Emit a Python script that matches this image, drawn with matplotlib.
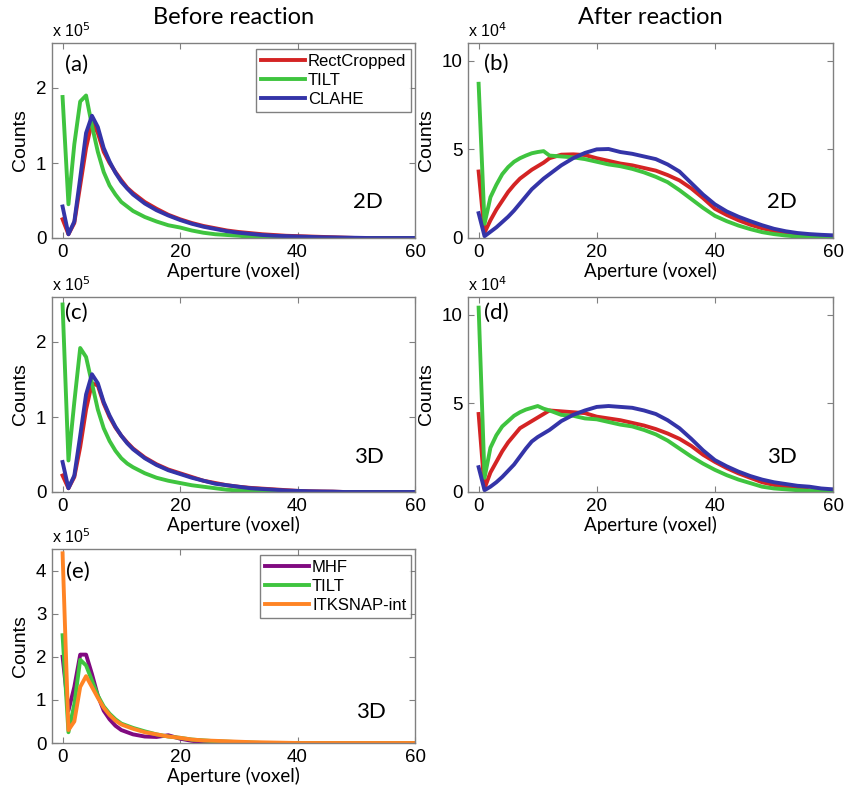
import matplotlib
matplotlib.use("Agg")
import matplotlib.pyplot as plt
import numpy as np

# ---------------- data ----------------
x_fine = list(range(0, 13)) + list(range(14, 61, 2))  # aperture (voxel)

# Panel (a) before reaction, 2D   (units of 1e5 counts)
a_rect = [0.25, 0.05, 0.2, 0.7, 1.2, 1.55, 1.4, 1.15, 1.0, 0.88, 0.77, 0.67, 0.6,
          0.48, 0.39, 0.31, 0.25, 0.2, 0.16, 0.13, 0.1, 0.08, 0.065, 0.05, 0.04, 0.03,
          0.025, 0.02, 0.015, 0.01, 0.005, 0, 0, 0, 0, 0, 0]
a_tilt = [1.88, 0.45, 1.25, 1.82, 1.9, 1.5, 1.15, 0.88, 0.7, 0.58, 0.48, 0.42, 0.36,
          0.28, 0.22, 0.17, 0.14, 0.1, 0.07, 0.05, 0.04, 0.03, 0.015, 0.01, 0, 0,
          0, 0, 0, 0, 0, 0, 0, 0, 0, 0, 0]
a_clahe = [0.42, 0.05, 0.22, 0.8, 1.4, 1.63, 1.48, 1.2, 1.02, 0.87, 0.75, 0.66, 0.58,
           0.46, 0.37, 0.3, 0.24, 0.19, 0.15, 0.12, 0.09, 0.07, 0.055, 0.04, 0.03, 0.025,
           0.02, 0.015, 0.01, 0.008, 0.005, 0.003, 0, 0, 0, 0, 0]

# Panel (b) after reaction, 2D   (units of 1e4 counts)
b_rect = [3.75, 0.3, 1.0, 1.6, 2.1, 2.6, 3.0, 3.35, 3.6, 3.85, 4.05, 4.25, 4.5,
          4.7, 4.72, 4.68, 4.5, 4.35, 4.2, 4.1, 3.95, 3.8, 3.55, 3.25, 2.8, 2.25,
          1.65, 1.3, 1.0, 0.75, 0.55, 0.4, 0.28, 0.18, 0.12, 0.07, 0.04]
b_tilt = [8.7, 0.8, 2.3, 3.0, 3.6, 4.0, 4.3, 4.5, 4.65, 4.78, 4.85, 4.9, 4.65,
          4.6, 4.55, 4.45, 4.3, 4.15, 4.05, 3.9, 3.7, 3.45, 3.15, 2.7, 2.2, 1.7,
          1.25, 0.95, 0.7, 0.5, 0.33, 0.22, 0.14, 0.08, 0.05, 0.02, 0.01]
b_clahe = [1.4, 0.1, 0.35, 0.6, 0.9, 1.2, 1.55, 1.95, 2.35, 2.75, 3.05, 3.35, 3.6,
           4.1, 4.5, 4.8, 5.0, 5.02, 4.85, 4.75, 4.6, 4.45, 4.15, 3.75, 3.1, 2.45,
           1.9, 1.5, 1.2, 0.95, 0.72, 0.52, 0.38, 0.28, 0.22, 0.18, 0.15]

# Panel (c) before reaction, 3D   (units of 1e5 counts)
c_rect = [0.22, 0.05, 0.2, 0.6, 1.1, 1.45, 1.42, 1.18, 1.0, 0.86, 0.75, 0.66, 0.58,
          0.46, 0.37, 0.3, 0.25, 0.2, 0.15, 0.12, 0.09, 0.07, 0.055, 0.045, 0.035, 0.025,
          0.015, 0.01, 0.007, 0.005, 0, 0, 0, 0, 0, 0, 0]
c_tilt = [2.5, 0.42, 1.2, 1.92, 1.8, 1.45, 1.1, 0.85, 0.68, 0.55, 0.45, 0.38, 0.33,
          0.25, 0.19, 0.15, 0.12, 0.09, 0.07, 0.05, 0.03, 0.02, 0.01, 0.005, 0, 0,
          0, 0, 0, 0, 0, 0, 0, 0, 0, 0, 0]
c_clahe = [0.4, 0.05, 0.22, 0.75, 1.3, 1.57, 1.45, 1.2, 1.02, 0.87, 0.75, 0.65, 0.57,
           0.45, 0.36, 0.29, 0.24, 0.19, 0.15, 0.11, 0.09, 0.07, 0.05, 0.04, 0.03, 0.02,
           0.015, 0.01, 0.007, 0.005, 0, 0, 0, 0, 0, 0, 0]

# Panel (d) after reaction, 3D   (units of 1e4 counts)
d_rect = [4.4, 0.2, 1.1, 1.7, 2.3, 2.8, 3.2, 3.6, 3.8, 4.0, 4.2, 4.4, 4.6,
          4.55, 4.5, 4.45, 4.25, 4.15, 4.05, 3.9, 3.75, 3.55, 3.3, 3.0, 2.6, 2.1,
          1.7, 1.35, 1.05, 0.8, 0.55, 0.4, 0.3, 0.2, 0.1, 0.05, 0.02]
d_tilt = [10.4, 0.8, 2.5, 3.2, 3.7, 4.0, 4.3, 4.5, 4.65, 4.75, 4.85, 4.7, 4.6,
          4.35, 4.3, 4.15, 4.1, 3.95, 3.8, 3.7, 3.5, 3.25, 2.9, 2.45, 2.0, 1.6,
          1.25, 0.95, 0.7, 0.5, 0.3, 0.2, 0.15, 0.1, 0.07, 0.03, 0.0]
d_clahe = [1.4, 0.1, 0.3, 0.55, 0.85, 1.2, 1.55, 2.0, 2.45, 2.85, 3.1, 3.3, 3.5,
           4.0, 4.35, 4.6, 4.8, 4.85, 4.8, 4.75, 4.6, 4.4, 4.05, 3.6, 3.0, 2.35,
           1.8, 1.45, 1.15, 0.9, 0.7, 0.55, 0.45, 0.35, 0.3, 0.2, 0.15]

# Panel (e) 3D comparison   (units of 1e5 counts)
e_mhf = [2.0, 0.75, 1.3, 2.05, 2.05, 1.6, 1.1, 0.75, 0.55, 0.4, 0.3, 0.25, 0.2,
         0.15, 0.14, 0.18, 0.1, 0.05, 0.02, 0.01, 0.005, 0, 0, 0, 0, 0,
         0, 0, 0, 0, 0, 0, 0, 0, 0, 0, 0]
e_tilt = [2.5, 0.25, 0.9, 1.93, 1.8, 1.45, 1.1, 0.85, 0.68, 0.55, 0.45, 0.4, 0.35,
          0.27, 0.2, 0.15, 0.12, 0.08, 0.06, 0.04, 0.03, 0.02, 0.01, 0, 0, 0,
          0, 0, 0, 0, 0, 0, 0, 0, 0, 0, 0]
e_itk = [4.4, 0.3, 0.5, 1.3, 1.55, 1.3, 1.05, 0.82, 0.65, 0.52, 0.43, 0.38, 0.33,
         0.25, 0.2, 0.15, 0.12, 0.08, 0.06, 0.05, 0.04, 0.03, 0.02, 0.015, 0.01, 0.005,
         0, 0, 0, 0, 0, 0, 0, 0, 0, 0, 0]

labels_top = ["RectCropped", "TILT", "CLAHE"]
labels_e = ["MHF", "TILT", "ITKSNAP-int"]

# ---------------- style ----------------
RED = "#d42424"
GREEN = "#3fc43f"
BLUE = "#3434a8"
PURPLE = "#800a80"
ORANGE = "#ff8424"
LW = 2.8
TICKFONT = ["Liberation Sans", "DejaVu Sans"]
TEXTFONT = ["Lato", "DejaVu Sans"]
FRAME = "#808080"

fig = plt.figure(figsize=(8.54, 7.9), dpi=100)
W, H = 854.0, 790.0


def make_ax(left, right, top, bottom):
    return fig.add_axes([left / W, 1 - bottom / H, (right - left) / W, (bottom - top) / H])


def style(ax, ymax, yticks, exp, label, dim, dimpos, labpos):
    ax.set_xlim(-1.8, 60)
    ax.set_ylim(0, ymax)
    ax.set_xticks([0, 20, 40, 60])
    ax.set_yticks(yticks)
    ax.set_yticklabels([str(t) for t in yticks])
    ax.tick_params(direction="in", top=True, right=True, length=4, width=0.8,
                   color=FRAME, labelsize=13.5, pad=4)
    for lab in ax.get_xticklabels() + ax.get_yticklabels():
        lab.set_family(TICKFONT)
    for sp in ax.spines.values():
        sp.set_color(FRAME)
        sp.set_linewidth(1.0)
    ax.set_xlabel("Aperture (voxel)", family=TEXTFONT, fontsize=13.5, labelpad=1)
    ax.set_ylabel("Counts", family=TICKFONT, fontsize=14, labelpad=5)
    ax.text(0.0, 1.015, "x 10$^{%d}$" % exp, transform=ax.transAxes, ha="left",
            va="bottom", family=TICKFONT, fontsize=11.5)
    ax.text(labpos[0], labpos[1], label, transform=ax.transAxes, ha="center",
            va="center", family=TEXTFONT, fontsize=16)
    ax.text(dimpos[0], dimpos[1], dim, transform=ax.transAxes, ha="center",
            va="center", family=TEXTFONT, fontsize=16)


def legend(ax, labels):
    leg = ax.legend(labels, loc="upper right", bbox_to_anchor=(0.99, 0.97),
                    frameon=True, fancybox=False, borderpad=0.3, labelspacing=0.25,
                    handlelength=2.6, handletextpad=0.2, borderaxespad=0.0,
                    prop={"family": TICKFONT, "size": 12})
    leg.get_frame().set_edgecolor("#606060")
    leg.get_frame().set_linewidth(1.0)


# (a)
ax = make_ax(52, 415, 43, 238)
ax.plot(x_fine, a_rect, color=RED, lw=LW)
ax.plot(x_fine, a_tilt, color=GREEN, lw=LW)
ax.plot(x_fine, a_clahe, color=BLUE, lw=LW)
style(ax, 2.6, [0, 1, 2], 5, "(a)", "2D", (0.87, 0.185), (0.068, 0.89))
legend(ax, labels_top)
ax.set_title("Before reaction", family=TEXTFONT, fontsize=17, pad=14)

# (b)
ax = make_ax(468, 833, 43, 238)
ax.plot(x_fine, b_rect, color=RED, lw=LW)
ax.plot(x_fine, b_tilt, color=GREEN, lw=LW)
ax.plot(x_fine, b_clahe, color=BLUE, lw=LW)
style(ax, 11, [0, 5, 10], 4, "(b)", "2D", (0.86, 0.185), (0.078, 0.895))
ax.set_title("After reaction", family=TEXTFONT, fontsize=17, pad=14)

# (c)
ax = make_ax(52, 415, 297, 492)
ax.plot(x_fine, c_rect, color=RED, lw=LW)
ax.plot(x_fine, c_tilt, color=GREEN, lw=LW)
ax.plot(x_fine, c_clahe, color=BLUE, lw=LW)
style(ax, 2.6, [0, 1, 2], 5, "(c)", "3D", (0.873, 0.18), (0.068, 0.918))

# (d)
ax = make_ax(468, 833, 297, 492)
ax.plot(x_fine, d_rect, color=RED, lw=LW)
ax.plot(x_fine, d_tilt, color=GREEN, lw=LW)
ax.plot(x_fine, d_clahe, color=BLUE, lw=LW)
style(ax, 11, [0, 5, 10], 4, "(d)", "3D", (0.86, 0.18), (0.078, 0.918))

# (e)
ax = make_ax(52, 415, 549, 743)
ax.plot(x_fine, e_mhf, color=PURPLE, lw=LW)
ax.plot(x_fine, e_tilt, color=GREEN, lw=LW)
ax.plot(x_fine, e_itk, color=ORANGE, lw=LW)
style(ax, 4.5, [0, 1, 2, 3, 4], 5, "(e)", "3D", (0.88, 0.16), (0.07, 0.88))
legend(ax, labels_e)

fig.savefig("out.png", dpi=100)
